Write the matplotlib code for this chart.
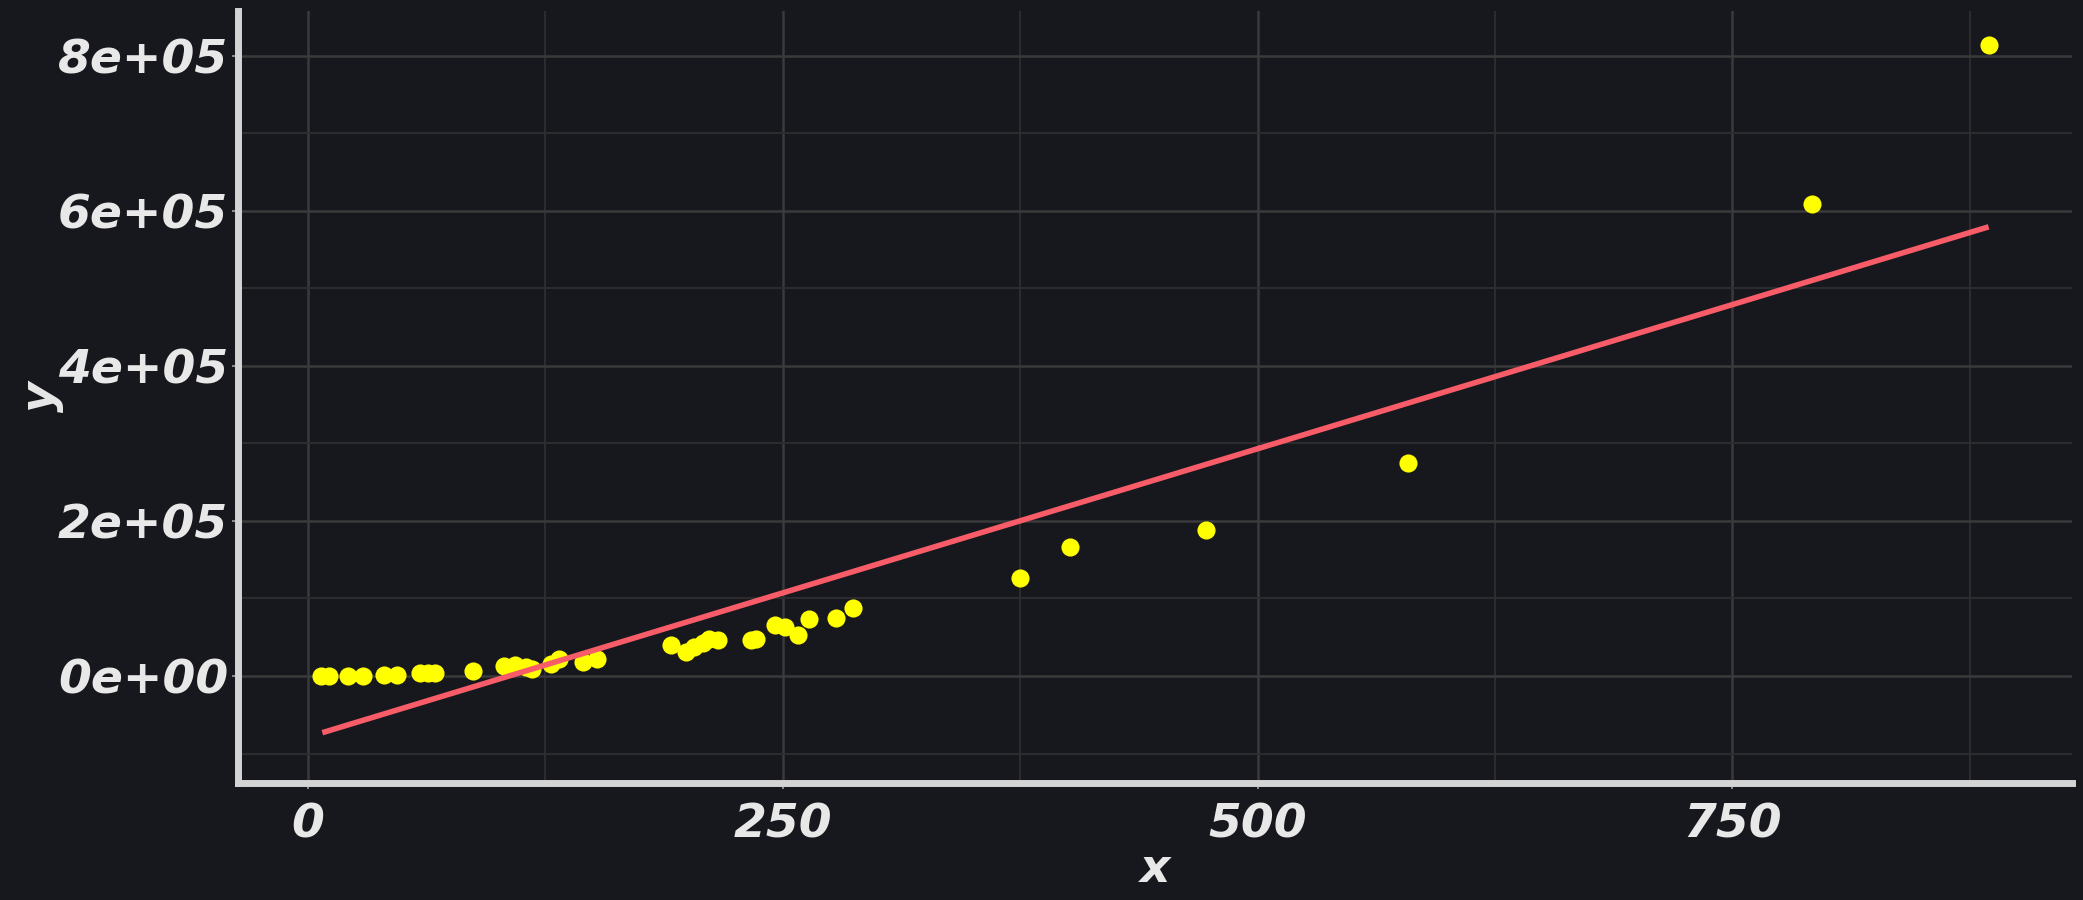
import numpy as np
import matplotlib
matplotlib.use("Agg")
import matplotlib.pyplot as plt
from matplotlib.ticker import FixedLocator, FuncFormatter

# scatter data
xs = [7, 11, 21, 29, 40, 47, 59, 63, 67, 87, 103, 109, 115, 118, 128, 132,
      145, 152, 191, 199, 203, 208, 211, 216, 233, 236, 246, 251, 258, 264,
      278, 287, 375, 401, 473, 579, 792, 885]
ys = [0, 0, 0, 0, 1300, 1300, 3500, 3500, 3500, 6900, 12900, 14000, 12000,
      9000, 15000, 22000, 18400, 21500, 40000, 31000, 37000, 42000, 48000,
      46000, 46000, 48000, 65800, 63600, 52900, 73100, 74400, 88100, 126000,
      166700, 188200, 274200, 608000, 813600]

# linear fit y = slope * x + intercept
fit_slope = 743.4
fit_intercept = -78700

x_major = [0, 250, 500, 750]
x_minor = [125, 375, 625, 875]
y_major = [0, 2e5, 4e5, 6e5, 8e5]
y_minor = [-1e5, 1e5, 3e5, 5e5, 7e5]

bg = "#17181d"
fg = "#e8e8e8"

x = np.array(xs, dtype=float)
y = np.array(ys, dtype=float)
xl = np.array([7.5, x.max()])

fig = plt.figure(figsize=(20.83, 9), dpi=100, facecolor=bg)
ax = fig.add_axes([238 / 2083, 1 - 783 / 900, (2072 - 238) / 2083, (783 - 11) / 900])
ax.set_facecolor(bg)

rng = x.max() - x.min()
ax.set_xlim(x.min() - 0.05 * rng, x.max() + 0.05 * rng)
ax.set_ylim(-1.38e5, 8.575e5)

ax.xaxis.set_major_locator(FixedLocator(x_major))
ax.xaxis.set_minor_locator(FixedLocator(x_minor))
ax.yaxis.set_major_locator(FixedLocator(y_major))
ax.yaxis.set_minor_locator(FixedLocator(y_minor))
ax.yaxis.set_major_formatter(FuncFormatter(lambda v, p: "%.0e" % v))

ax.grid(which="major", color="#3a3a3c", linewidth=1.8)
ax.grid(which="minor", color="#2d2d30", linewidth=1.4)
ax.set_axisbelow(True)

ax.scatter(x, y, s=170, color="#ffff00", linewidths=0, zorder=3)
ax.plot(xl, fit_intercept + fit_slope * xl, color="#f85c68", linewidth=4,
        solid_capstyle="butt", zorder=4)

for side in ["top", "right"]:
    ax.spines[side].set_visible(False)
for side in ["left", "bottom"]:
    ax.spines[side].set_color("#d4d4d4")
    ax.spines[side].set_linewidth(5)

fam = ["DejaVu Sans"]
font = dict(family=fam, weight="bold", style="oblique", size=34, color=fg)
ax.tick_params(which="major", length=4, width=1.5, color="#888888", pad=3)
ax.tick_params(axis="x", which="major", pad=10)
ax.tick_params(which="minor", length=0)
for lab in ax.get_xticklabels() + ax.get_yticklabels():
    lab.set_fontfamily(fam)
    lab.set_fontweight("bold")
    lab.set_fontstyle("oblique")
    lab.set_fontsize(34)
    lab.set_color(fg)

ax.set_xlabel("x", labelpad=0, **font)
ax.set_ylabel("y", labelpad=-4, **font)

fig.savefig("out.png", dpi=100, facecolor=bg)
